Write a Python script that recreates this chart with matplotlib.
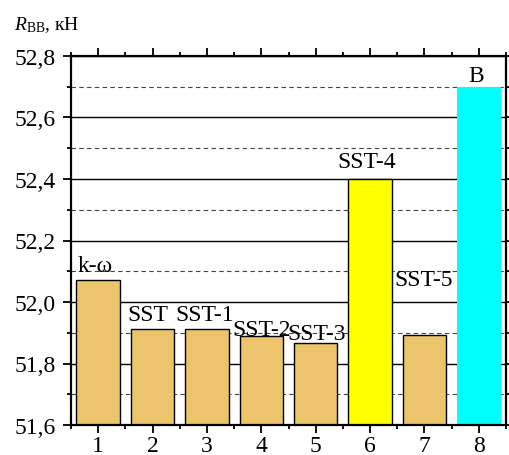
import numpy as np
import matplotlib
matplotlib.use("Agg")
import matplotlib.pyplot as plt
from matplotlib.ticker import MultipleLocator, FuncFormatter

plt.rcParams['font.family'] = ['Liberation Serif', 'DejaVu Serif']
plt.rcParams['mathtext.fontset'] = 'custom'
plt.rcParams['mathtext.rm'] = 'Liberation Serif'
plt.rcParams['mathtext.it'] = 'Liberation Serif:italic'

## data
positions = [1, 2, 3, 4, 5, 6, 7, 8]
values = [52.071, 51.912, 51.912, 51.891, 51.867, 52.40, 51.894, 52.70]
bar_colors = ['#EBC46B'] * 5 + ['#FFFF00', '#EBC46B', '#00FFFF']
edge_colors = ['black'] * 7 + ['none']

## labels above the bars: text, x, y (baseline)
label_texts = ['k-ω', 'SST', 'SST-1', 'SST-2', 'SST-3', 'SST-4', 'SST-5', 'В']
label_x = [0.62, 1.91, 2.95, 4.0, 5.01, 5.93, 6.99, 7.96]
label_y = [52.10, 51.94, 51.94, 51.892, 51.88, 52.44, 52.054, 52.72]
label_ha = ['left'] + ['center'] * 7

fig = plt.figure(figsize=(5.1, 4.56), dpi=100)
ax = fig.add_axes([71/510, 1 - 426/456, 435/510, 369/456])

ax.bar(positions, np.array(values) - 51.6, bottom=51.6, width=0.8,
       color=bar_colors, edgecolor=edge_colors, linewidth=1.0, zorder=2)

for t, x, y, ha in zip(label_texts, label_x, label_y, label_ha):
    ax.text(x, y, t, ha=ha, va='baseline', fontsize=17, zorder=3)

ax.set_xlim(0.5, 8.5)
ax.set_ylim(51.6, 52.8)
ax.xaxis.set_major_locator(MultipleLocator(1))
ax.xaxis.set_minor_locator(MultipleLocator(0.5))
ax.yaxis.set_major_locator(MultipleLocator(0.2))
ax.yaxis.set_minor_locator(MultipleLocator(0.1))
ax.yaxis.set_major_formatter(FuncFormatter(lambda v, p: ('%.1f' % v).replace('.', ',')))

ax.set_axisbelow(True)
ax.yaxis.grid(True, which='major', color='black', linewidth=1.0, linestyle='-', zorder=0)
ax.yaxis.grid(True, which='minor', color='#444444', linewidth=0.8, linestyle=(0, (4, 3)), zorder=0)

for s in ax.spines.values():
    s.set_linewidth(1.6)
ax.tick_params(which='both', direction='out', top=True, right=True, width=1.3)
ax.tick_params(which='major', length=6, labelsize=17)
ax.tick_params(axis='x', which='major', pad=1)
ax.tick_params(axis='y', which='major', pad=5)
ax.tick_params(which='minor', length=3)

fig.text(14/510, 1 - 30/456, r'$R_{\mathrm{ВВ}}$, кН', fontsize=14, va='baseline', ha='left')

fig.savefig('out.png', dpi=100)
